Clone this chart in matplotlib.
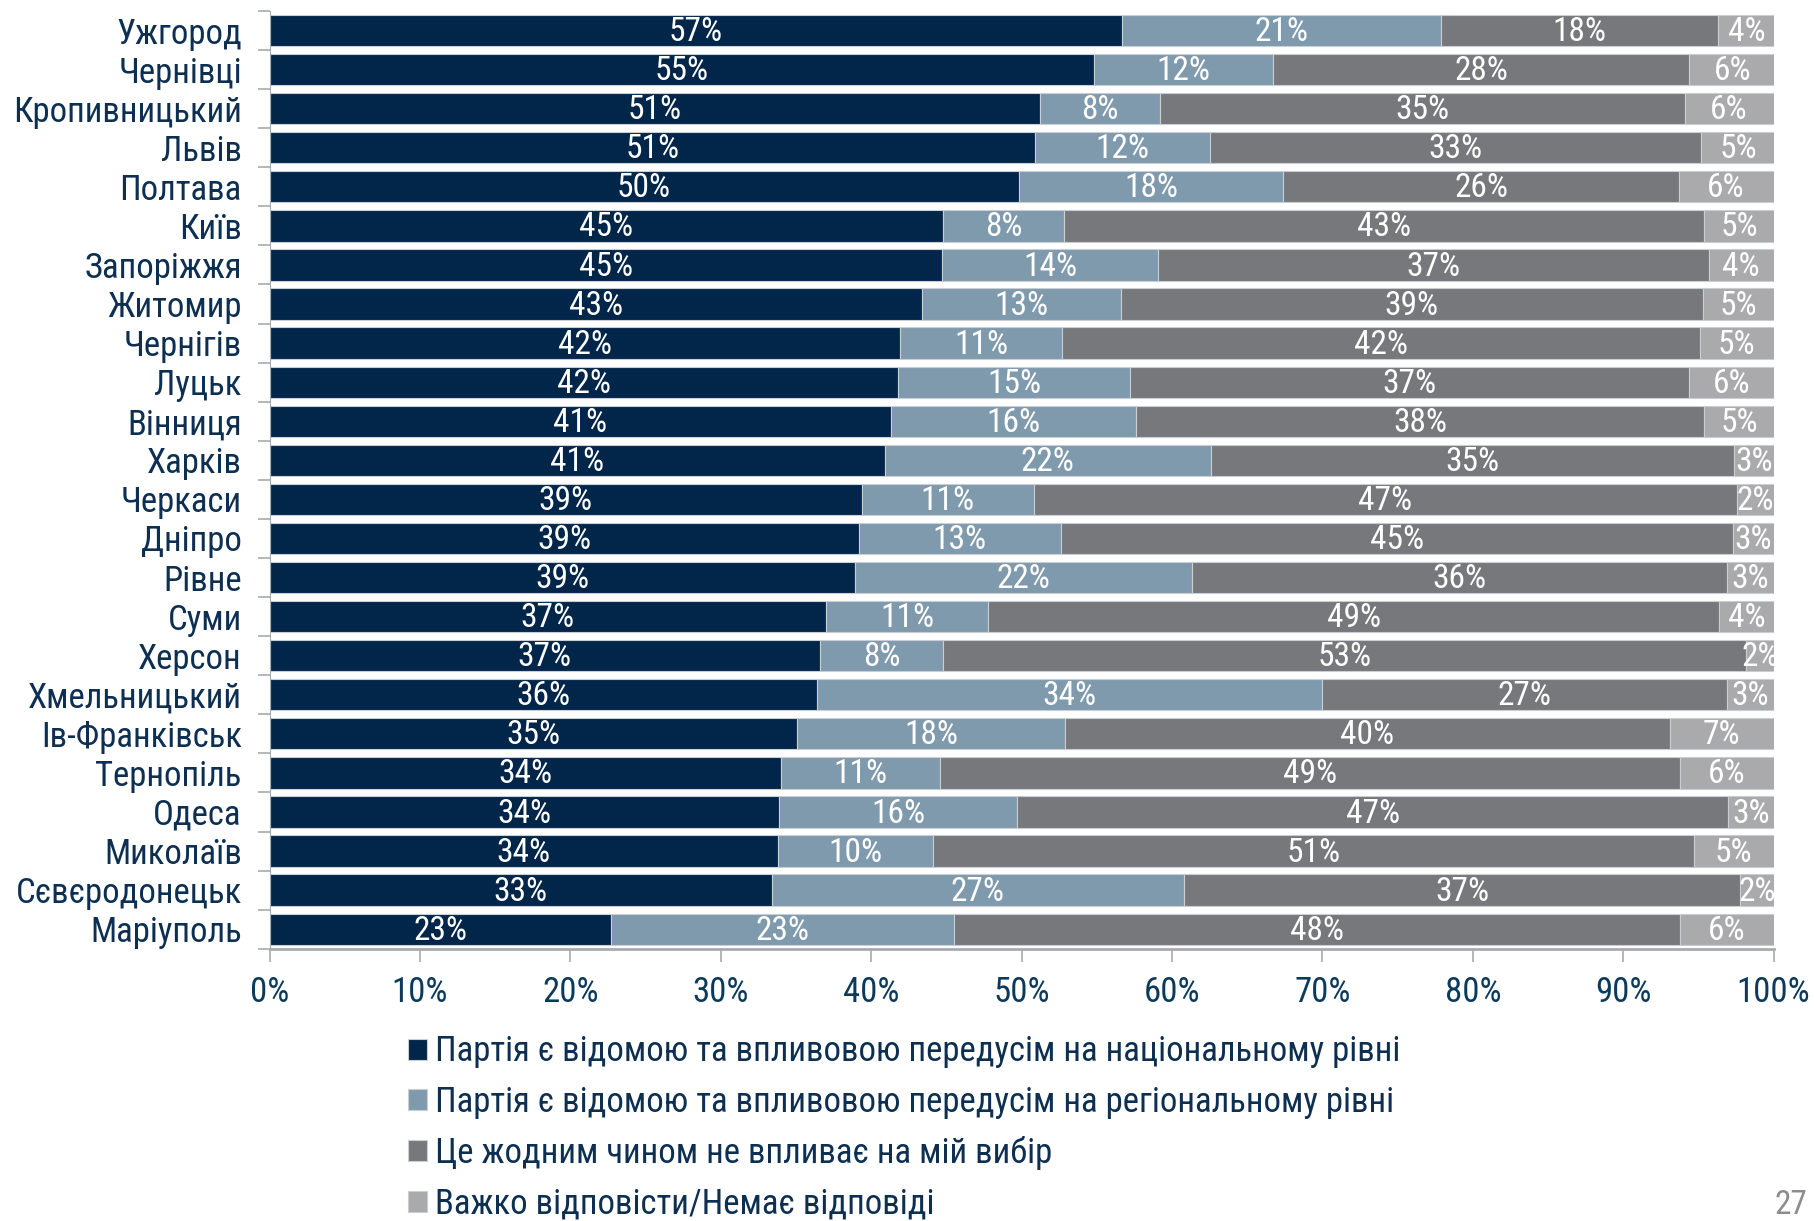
import matplotlib
matplotlib.use('Agg')
import matplotlib.pyplot as plt
import numpy as np

plt.rcParams['font.family'] = ['Roboto Condensed', 'PT Sans Narrow', 'DejaVu Sans']

cities = ['Ужгород', 'Чернівці', 'Кропивницький', 'Львів', 'Полтава', 'Київ', 'Запоріжжя',
          'Житомир', 'Чернігів', 'Луцьк', 'Вінниця', 'Харків', 'Черкаси', 'Дніпро', 'Рівне',
          'Суми', 'Херсон', 'Хмельницький', 'Ів-Франківськ', 'Тернопіль', 'Одеса', 'Миколаїв',
          'Сєвєродонецьк', 'Маріуполь']

national = [56.7, 54.8, 51.2, 50.9, 49.8, 44.8, 44.7, 43.4, 41.9, 41.8, 41.3, 40.9, 39.4, 39.2,
            38.9, 37.0, 36.6, 36.4, 35.1, 34.0, 33.9, 33.8, 33.4, 22.7]
regional = [21.2, 11.9, 8.0, 11.6, 17.6, 8.0, 14.4, 13.2, 10.8, 15.4, 16.3, 21.7, 11.4, 13.4,
            22.4, 10.8, 8.2, 33.6, 17.8, 10.6, 15.8, 10.3, 27.4, 22.8]
no_effect = [18.4, 27.7, 34.9, 32.7, 26.3, 42.6, 36.6, 38.7, 42.4, 37.2, 37.8, 34.8, 46.8, 44.7,
             35.6, 48.6, 53.4, 26.9, 40.2, 49.2, 47.3, 50.6, 37.0, 48.3]
hard_to_say = [3.8, 5.7, 5.9, 4.9, 6.3, 4.6, 4.3, 4.7, 4.9, 5.6, 4.6, 2.6, 2.4, 2.7,
               3.1, 3.6, 1.8, 3.1, 6.9, 6.2, 3.0, 5.3, 2.2, 6.2]

series_names = ['Партія є відомою та впливовою передусім на національному рівні',
                'Партія є відомою та впливовою передусім на регіональному рівні',
                'Це жодним чином не впливає на мій вибір',
                'Важко відповісти/Немає відповіді']
colors = ['#02264a', '#7f9aad', '#77787b', '#aaaaac']
navy = '#0d2f52'

fig = plt.figure(figsize=(18.14, 12.21), dpi=100)
ax = fig.add_axes([0.1486, 0.223, 0.8291, 0.768])

y = np.arange(len(cities))
left = np.zeros(len(cities))
for vals, col, name in zip([national, regional, no_effect, hard_to_say], colors, series_names):
    vals = np.array(vals)
    ax.barh(y, vals, left=left, height=0.8, color=col, edgecolor='#c9ced4', linewidth=0.8, label=name)
    for yi, l, v in zip(y, left, vals):
        ax.text(l + v / 2, yi + 0.04, f'{v:.0f}%', ha='center', va='center', color='white', fontsize=24)
    left = left + vals

ax.set_xlim(0, 100)
ax.set_ylim(len(cities) - 0.5, -0.5)
ax.set_yticks(y)
ax.set_yticklabels(cities, fontsize=25, color=navy)
ax.set_yticks(np.arange(-0.5, len(cities), 1), minor=True)
ax.tick_params(axis='y', which='major', length=0, pad=20)
ax.tick_params(axis='y', which='minor', length=9, color='#a6abb0', width=1.2)
ax.set_xticks(np.arange(0, 101, 10))
ax.set_xticklabels([f'{t}%' for t in range(0, 101, 10)], fontsize=25, color='#0b3a5c')
ax.tick_params(axis='x', length=9, color='#a6abb0', width=1.2, pad=11)
for s in ['top', 'right']:
    ax.spines[s].set_visible(False)
ax.spines['left'].set_color('#a6abb0')
ax.spines['bottom'].set_color('#a6abb0')
ax.spines['bottom'].set_linewidth(2)

leg = fig.legend(loc='upper left', bbox_to_anchor=(0.225, 0.152), frameon=False, fontsize=25,
                 handlelength=0.55, handleheight=0.55, handletextpad=0.22, labelspacing=0.5,
                 borderpad=0, borderaxespad=0)
for t in leg.get_texts():
    t.set_color(navy)

fig.text(0.978, 0.0, '27', fontsize=24, color='#8a8c90', ha='left', va='bottom')

fig.savefig('out.png', dpi=100)
